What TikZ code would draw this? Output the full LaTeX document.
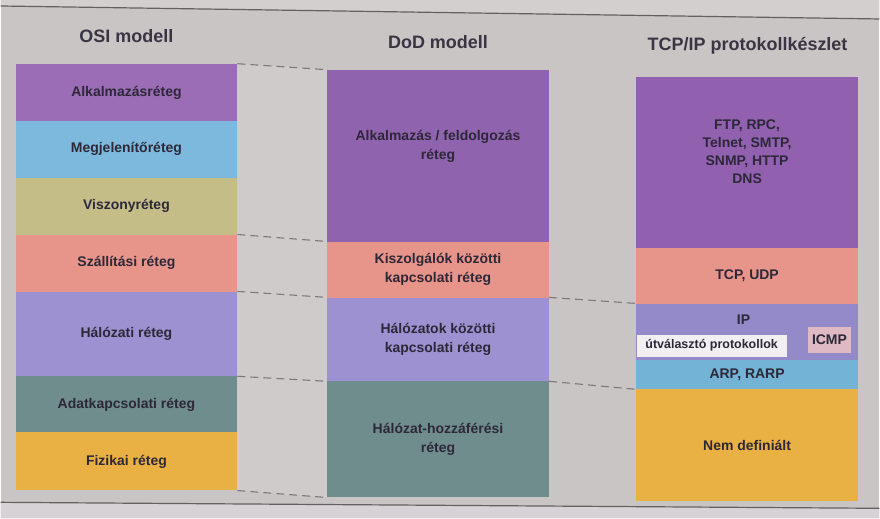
\documentclass[tikz,border=0pt]{standalone}
\usepackage{fontspec}
\setmainfont{Liberation Sans}
\begin{document}
\definecolor{pagebg}{HTML}{C9C5C5}
\definecolor{pagetop}{HTML}{D3CFCF}
\definecolor{pagefoot}{HTML}{D6D2D6}
\definecolor{gapbg}{HTML}{CFCBCB}
\definecolor{rule}{HTML}{7E7878}
\definecolor{ink}{HTML}{2D2838}
\definecolor{cApp}{HTML}{9B6DB6}
\definecolor{cPres}{HTML}{7DB9DD}
\definecolor{cSess}{HTML}{C5BD88}
\definecolor{cTrans}{HTML}{E7958A}
\definecolor{cNet}{HTML}{9D91D1}
\definecolor{cLink}{HTML}{6F8D8D}
\definecolor{cPhys}{HTML}{E9B143}
\definecolor{cDodApp}{HTML}{8F63AD}
\definecolor{cTcpApp}{HTML}{9161B0}
\definecolor{cIp}{HTML}{9489C9}
\definecolor{cArp}{HTML}{72B3D6}
\definecolor{cIcmp}{HTML}{DFB9C3}
\definecolor{cRoute}{HTML}{F1EFF1}
\begin{tikzpicture}[x=1pt,y=-1pt,
  layer/.style={draw=none, inner sep=0pt, text=ink, align=center,
    font=\fontsize{14}{19}\selectfont\bfseries},
  osicol/.style={layer, minimum width=222pt},
  dodcol/.style={layer, minimum width=222pt},
  tcpcol/.style={layer, minimum width=223pt},
  title/.style={text=ink!85!gray, font=\fontsize{18}{20}\selectfont\bfseries},
  tag/.style={inner sep=0pt, text=ink, font=\fontsize{14}{16}\selectfont\bfseries},
  link/.style={draw=rule, line width=1.1pt, dash pattern=on 8pt off 5pt}]
% page
\fill[pagebg] (0,0) rectangle (880,519);
\fill[pagetop] (0,0) -- (880,0) -- (880,19) -- (0,6) -- cycle;
\draw[rule!80!black, line width=1.2pt] (0,6) -- (880,19);
\fill[pagefoot] (0,503) -- (880,509) -- (880,519) -- (0,519) -- cycle;
\draw[rule!80!black, line width=1.2pt] (0,503) -- (880,509);
\useasboundingbox (0,0) rectangle (880,519);

% titles
\node[title] (tOsi) at (126,36) {OSI modell};
\node[title] (tDod) at (438,42) {DoD modell};
\node[title] (tTcp) at (748,46) {TCP/IP protokollkészlet};

% OSI model
\node[osicol, fill=cApp,   minimum height=57pt] (osi1) at (126,92.5) {Alkalmazásréteg};
\node[osicol, fill=cPres,  minimum height=57pt] (osi2) at (126,149.5) {Megjelenítőréteg};
\node[osicol, fill=cSess,  minimum height=57pt] (osi3) at (126,206.5) {Viszonyréteg};
\node[osicol, fill=cTrans, minimum height=57pt] (osi4) at (126,263.5) {Szállítási réteg};
\node[osicol, fill=cNet,   minimum height=85pt] (osi5) at (126,334.5) {Hálózati réteg};
\node[osicol, fill=cLink,  minimum height=56pt] (osi6) at (126,405) {Adatkapcsolati réteg};
\node[osicol, fill=cPhys,  minimum height=58pt] (osi7) at (126,462) {Fizikai réteg};

% DoD model
\node[dodcol, fill=cDodApp, minimum height=172pt] (dod1) at (438,156) {};
\node[layer] (dod1t) at (438,147) {Alkalmazás / feldolgozás\\réteg};
\node[dodcol, fill=cTrans, minimum height=56pt] (dod2) at (438,270) {Kiszolgálók közötti\\kapcsolati réteg};
\node[dodcol, fill=cNet,   minimum height=84pt] (dod3) at (438,340) {Hálózatok közötti\\kapcsolati réteg};
\node[dodcol, fill=cLink,  minimum height=116pt] (dod4) at (438,440) {Hálózat-hozzáférési\\réteg};

% lighter band between the OSI and DoD columns
\fill[gapbg] (osi1.north east) -- (dod1.north west) -- (dod4.south west) -- (osi7.south east) -- cycle;

% TCP/IP protocol suite
\node[tcpcol, fill=cTcpApp, minimum height=171pt] (tcp1) at (747.5,162.5) {};
\node[layer, font=\fontsize{14}{18}\selectfont\bfseries] (tcp1t) at (747.5,152) {FTP, RPC,\\Telnet, SMTP,\\SNMP, HTTP\\DNS};
\node[tcpcol, fill=cTrans, minimum height=56pt] (tcp2) at (747.5,276) {TCP, UDP};
\node[tcpcol, fill=cIp,    minimum height=56pt] (tcp3) at (747.5,332) {};
\node[tcpcol, fill=cArp,   minimum height=30pt] (tcp4) at (747.5,375) {ARP, RARP};
\node[tcpcol, fill=cPhys,  minimum height=112pt] (tcp5) at (747.5,446) {Nem definiált};
\node[tag] (ip) at (744,320) {IP};
\node[tag, fill=cRoute, minimum width=150pt, minimum height=22pt,
  font=\fontsize{12.5}{14}\selectfont\bfseries] (route) at (712,346) {útválasztó protokollok};
\node[tag, fill=cIcmp, minimum width=44pt, minimum height=26pt] (icmp) at (830,340) {ICMP};

% layer correspondences
\draw[link] (osi1.north east) -- (dod1.north west);
\draw[link] (osi4.north east) -- (dod2.north west);
\draw[link] (osi5.north east) -- (dod3.north west);
\draw[link] (osi6.north east) -- (dod4.north west);
\draw[link] (osi7.south east) -- (dod4.south west);
\draw[link] (dod3.north east) -- (tcp3.north west);
\draw[link] (dod4.north east) -- (tcp5.north west);
\end{tikzpicture}
\end{document}
